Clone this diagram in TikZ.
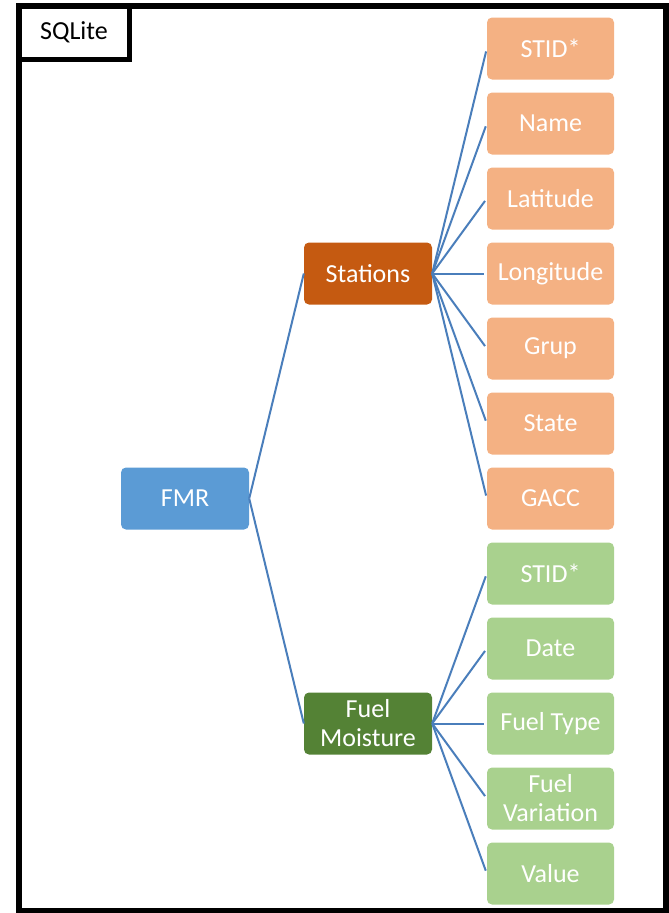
\documentclass[tikz,border=0pt]{standalone}
\usepackage{fontspec}
\setmainfont{Carlito}
\usepackage{tikz}
\usetikzlibrary{positioning}

\definecolor{fmrblue}{RGB}{91,155,213}
\definecolor{stdark}{RGB}{197,90,17}
\definecolor{stlight}{RGB}{244,177,131}
\definecolor{fmdark}{RGB}{84,130,53}
\definecolor{fmlight}{RGB}{169,209,142}
\definecolor{linkblue}{RGB}{74,126,187}

\tikzset{
  box/.style={rounded corners=5pt, minimum width=128pt, minimum height=62pt,
    inner sep=0pt, text=white, align=center, font=\fontsize{26}{29}\selectfont},
  link/.style={linkblue, line width=2pt},
}

\begin{document}
\begin{tikzpicture}[x=1pt,y=-1pt]
\useasboundingbox (0,0) rectangle (669,913);
% outer frame
\draw[line width=6pt] (18.5,6) rectangle (666,910.5);
\node[draw, line width=5.5pt, minimum width=111pt, minimum height=53.5pt, inner sep=0pt,
  font=\fontsize{26}{29}\selectfont] (sqlite) at (74,32.75) {SQLite};

% tables
\node[box, fill=fmrblue] (fmr) at (185,498.5) {FMR};
\node[box, fill=stdark] (stations) at (368,273.5) {Stations};
\node[box, fill=fmdark] (fuelmoist) at (368,723.5) {Fuel\\Moisture};
\draw[link] (fmr.east) -- (stations.west);
\draw[link] (fmr.east) -- (fuelmoist.west);

% columns
\foreach \n/\t [count=\i from 0] in {s1/STID*, s2/Name, s3/Latitude, s4/Longitude, s5/Grup, s6/State, s7/GACC}{
  \node[box, fill=stlight, minimum width=127pt] (\n) at (550.5,48.5+75*\i) {\t};
  \draw[link, shorten >=3pt] (stations.east) -- (\n.west);
}
\foreach \n/\t [count=\i from 7] in {f1/STID*, f2/Date, f3/{Fuel Type}, f4/{Fuel\\Variation}, f5/Value}{
  \node[box, fill=fmlight, minimum width=127pt] (\n) at (550.5,48.5+75*\i) {\t};
  \draw[link, shorten >=3pt] (fuelmoist.east) -- (\n.west);
}
%\node[box, fill=fmlight] at (550.5,900) {};
\end{tikzpicture}
\end{document}
